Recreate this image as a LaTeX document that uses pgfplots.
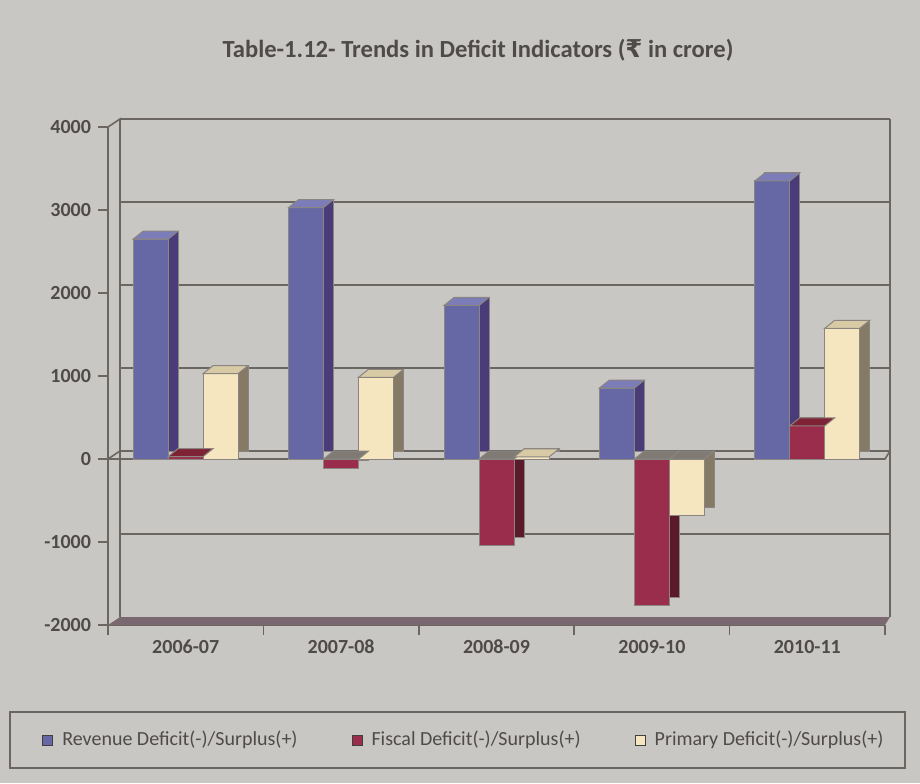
\documentclass[border=0pt]{standalone}
\usepackage{pgfplots}
\pgfplotsset{compat=1.18}
\usepackage{pgfplotstable}
\usepackage{fontspec}
\setmainfont{Carlito}
\newfontfamily\rupee{DejaVu Sans}
\definecolor{bg}{HTML}{C9C7C4}
\definecolor{textc}{HTML}{4E4B49}
\definecolor{gridc}{HTML}{6B6662}
\definecolor{revf}{HTML}{6668A6}
\definecolor{revs}{HTML}{4A3C78}
\definecolor{revt}{HTML}{7C7DB8}
\definecolor{fisf}{HTML}{9A2D4B}
\definecolor{fiss}{HTML}{5A1A2A}
\definecolor{fist}{HTML}{7E2236}
\definecolor{prif}{HTML}{F6E6BF}
\definecolor{pris}{HTML}{857A66}
\definecolor{prit}{HTML}{D9CAA6}
\definecolor{negt}{HTML}{7F7B74}
\definecolor{edge}{HTML}{8A8580}
\definecolor{floorc}{HTML}{7A6870}

\pgfdeclareplotmark{topface}{%
  \pgfpathmoveto{\pgfpoint{-8.75pt}{0pt}}%
  \pgfpathlineto{\pgfpoint{8.75pt}{0pt}}%
  \pgfpathlineto{\pgfpoint{13.75pt}{4pt}}%
  \pgfpathlineto{\pgfpoint{-3.75pt}{4pt}}%
  \pgfpathclose
  \pgfusepathqfillstroke}

\pgfplotstableread{
x rev fis pri
0 2650 30 1030
1 3030 -120 985
2 1850 -1045 25
3 855 -1765 -675
4 3350 400 1575
}\data

\begin{document}
\begin{tikzpicture}
\fill[bg] (-54pt,-79pt) rectangle (406pt,312.5pt);
\node[font=\bfseries\fontsize{12.3}{14}\selectfont, text=textc] at (185pt,287.5pt)
  {Table-1.12- Trends in Deficit Indicators ({\rupee\bfseries ₹} in crore)};
\draw[gridc, line width=0.8pt] (-49pt,-43.5pt) rectangle (398.5pt,-71.5pt);
\begin{axis}[
  at={(0pt,0pt)}, anchor=south west,
  scale only axis, width=388.5pt, height=249pt,
  xmin=-0.5, xmax=4.5, ymin=-2000, ymax=4000,
  axis x line*=bottom, axis y line*=left,
  axis line style={gridc, line width=0.8pt},
  tick align=outside,
  xtick={-0.5,0.5,...,4.5}, xticklabels={},
  extra x ticks={0,1,2,3,4},
  extra x tick labels={2006-07,2007-08,2008-09,2009-10,2010-11},
  extra x tick style={major tick length=0pt},
  ytick={-2000,-1000,...,4000},
  major tick length=5pt,
  tick style={gridc, line width=0.8pt},
  ticklabel style={font=\bfseries\fontsize{10}{12}\selectfont, text=textc},
  xticklabel style={yshift=-4pt},
  /pgf/number format/.cd, 1000 sep={}, assume math mode=true, /pgfplots/.cd,
  clip=false,
  legend columns=3,
  legend style={at={(-0.085,-0.231)}, anchor=west, draw=none, fill=none,
    inner sep=0pt, font=\fontsize{10}{12}\selectfont, text=textc,
    /tikz/every odd column/.append style={column sep=2.5pt},
    /tikz/every even column/.append style={column sep=25pt}},
  legend image code/.code={\draw[#1, draw=black!75, line width=0.5pt] (0pt,-2.5pt) rectangle (5pt,2.5pt);},
]
% back wall and floor
\fill[floorc] (axis cs:-0.5,-2000) -- (axis cs:4.5,-2000) -- ([xshift=2.5pt,yshift=4pt]axis cs:4.5,-2000) -- ([xshift=6pt,yshift=4pt]axis cs:-0.5,-2000) -- cycle;
\pgfplotsinvokeforeach{-1000,0,1000,2000,3000,4000}{
  \draw[gridc, line width=0.8pt] ([xshift=6pt,yshift=4pt]axis cs:-0.5,#1) -- ([xshift=2.5pt,yshift=4pt]axis cs:4.5,#1);
}
\draw[gridc, line width=0.8pt] ([xshift=6pt,yshift=4pt]axis cs:-0.5,-2000) -- ([xshift=6pt,yshift=4pt]axis cs:-0.5,4000) -- (axis cs:-0.5,4000);
\draw[gridc, line width=0.8pt] ([xshift=2.5pt,yshift=4pt]axis cs:4.5,-2000) -- ([xshift=2.5pt,yshift=4pt]axis cs:4.5,4000);
\draw[gridc, line width=0.8pt] (axis cs:-0.5,0) -- (axis cs:4.5,0) -- ([xshift=2.5pt,yshift=4pt]axis cs:4.5,0);
\draw[gridc, line width=0.8pt] (axis cs:-0.5,0) -- ([xshift=6pt,yshift=4pt]axis cs:-0.5,0);
% side faces
\addplot[ybar, bar width=17.5pt, bar shift=-17.5pt, fill=revs, draw=edge, line width=0.5pt, xshift=5pt, yshift=4pt, forget plot] table[x=x,y=rev]{\data};
\addplot[ybar, bar width=17.5pt, bar shift=0pt, fill=fiss, draw=edge, line width=0.5pt, xshift=5pt, yshift=4pt, forget plot] table[x=x,y=fis]{\data};
\addplot[ybar, bar width=17.5pt, bar shift=17.5pt, fill=pris, draw=edge, line width=0.5pt, xshift=5pt, yshift=4pt, forget plot] table[x=x,y=pri]{\data};
% top faces
\addplot[only marks, mark=topface, xshift=-17.5pt, mark options={fill=revt, draw=edge, line width=0.5pt}, forget plot] coordinates {(0,2650) (1,3030) (2,1850) (3,855) (4,3350)};
\addplot[only marks, mark=topface, mark options={fill=fist, draw=edge, line width=0.5pt}, forget plot] coordinates {(0,30) (4,400)};
\addplot[only marks, mark=topface, mark options={fill=negt, draw=edge, line width=0.5pt}, forget plot] coordinates {(1,0) (2,0) (3,0)};
\addplot[only marks, mark=topface, xshift=17.5pt, mark options={fill=prit, draw=edge, line width=0.5pt}, forget plot] coordinates {(0,1030) (1,985) (2,25) (4,1575)};
\addplot[only marks, mark=topface, xshift=17.5pt, mark options={fill=negt, draw=edge, line width=0.5pt}, forget plot] coordinates {(3,0)};
% front faces
\addplot[ybar, bar width=17.5pt, bar shift=-17.5pt, fill=revf, draw=edge, line width=0.5pt] table[x=x,y=rev]{\data};
\addplot[ybar, bar width=17.5pt, bar shift=0pt, fill=fisf, draw=edge, line width=0.5pt] table[x=x,y=fis]{\data};
\addplot[ybar, bar width=17.5pt, bar shift=17.5pt, fill=prif, draw=edge, line width=0.5pt] table[x=x,y=pri]{\data};
\legend{Revenue Deficit(-)/Surplus(+), Fiscal Deficit(-)/Surplus(+), Primary Deficit(-)/Surplus(+)}
\end{axis}
\end{tikzpicture}
\end{document}
